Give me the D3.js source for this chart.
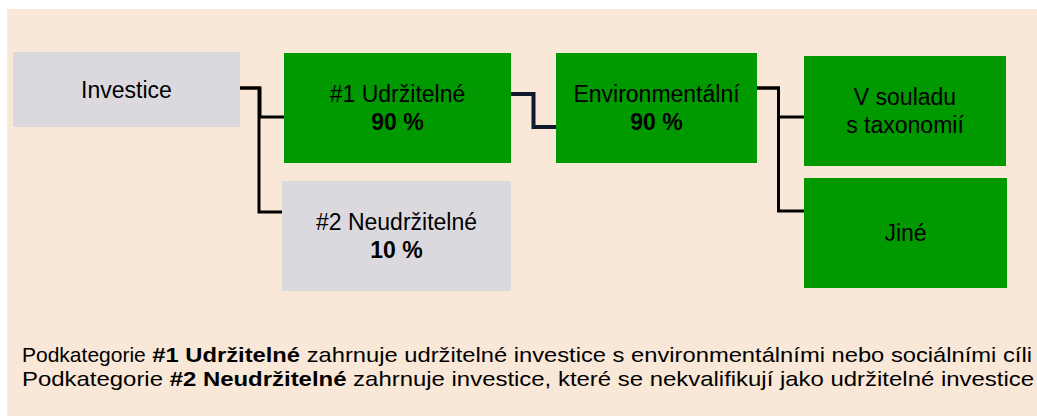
<!DOCTYPE html>
<html>
<head>
<meta charset="utf-8">
<script src="https://cdn.jsdelivr.net/npm/d3@7"></script>
<style>
  body { margin: 0; background: #fff; }
  svg { display: block; }
</style>
</head>
<body>
<div id="root"></div>
<script>
// nodes of the allocation tree
const nodeLabels = ['Investice', '#1 Udržitelné', '#2 Neudržitelné', 'Environmentální', 'V souladu|s taxonomií', 'Jiné'];
const nodeShares = [null, 90, 10, 90, null, null];
const nodeKinds = ['neutral', 'green', 'neutral', 'green', 'green', 'green'];
// parent -> children
const links = [[0, [1, 2]], [1, [3]], [3, [4, 5]]];
const footnoteLead = 'Podkategorie';
const footnoteBold = ['#1 Udržitelné', '#2 Neudržitelné'];
const footnoteRest = [
    'zahrnuje udržitelné investice s environmentálními nebo sociálními cíli',
    'zahrnuje investice, které se nekvalifikují jako udržitelné investice'
];

const width = 1037;
const height = 416;

// box geometry, one entry per node
const boxes = [
    { x: 13, y: 52, w: 227, h: 75, out: 36 },
    { x: 284, y: 53, w: 227, h: 110, in: 64, out: 41 },
    { x: 282, y: 181, w: 229, h: 110, in: 31 },
    { x: 556, y: 53, w: 201, h: 110, in: 74, out: 35 },
    { x: 804, y: 56, w: 202, h: 110, in: 61 },
    { x: 804, y: 178, w: 203, h: 110, in: 33 }
];

const colors = { green: '#009900', neutral: '#dbd9de' };
const fontSize = 23;
const lineHeight = 27.5;

const svg = d3.select('#root')
    .append('svg')
        .attr('width', width)
        .attr('height', height)
        .style('font-family', 'Arial, "Liberation Sans", sans-serif');

svg.append('rect')
    .attr('x', 7)
    .attr('y', 9)
    .attr('width', width - 7)
    .attr('height', height - 9)
    .attr('fill', '#f9e7d7');

// connectors (elbows)
const line = d3.line().curve(d3.curveLinear);
links.forEach(([p, kids]) => {
    const s = boxes[p];
    const sx = s.x + s.w;
    const sy = s.y + s.out;
    kids.forEach(k => {
        const t = boxes[k];
        const ty = t.y + t.in;
        const mx = (sx + t.x) / 2 - (kids.length > 1 ? 2 : 0);
        svg.append('path')
            .attr('d', line([[sx, sy], [mx, sy], [mx, ty], [t.x, ty]]))
            .attr('fill', 'none')
            .attr('stroke', kids.length > 1 ? '#000' : '#0f1b2d')
            .attr('stroke-width', kids.length > 1 ? 3 : 4)
            .attr('stroke-linejoin', 'miter');
    });
});

const node = svg.selectAll('g.node')
    .data(nodeLabels.map((label, i) => ({ label, share: nodeShares[i], kind: nodeKinds[i], box: boxes[i] })))
    .enter()
    .append('g')
        .attr('class', 'node');

node.append('rect')
    .attr('x', d => d.box.x)
    .attr('y', d => d.box.y)
    .attr('width', d => d.box.w)
    .attr('height', d => d.box.h)
    .attr('fill', d => colors[d.kind]);

node.each(function (d) {
    const lines = d.label.split('|').map(t => ({ t, bold: false }));
    if (d.share != null) lines.push({ t: `${d.share} %`, bold: true });
    const cx = d.box.x + d.box.w / 2;
    const cy = d.box.y + d.box.h / 2;
    const cap = fontSize * 0.716;
    d3.select(this).selectAll('text')
        .data(lines)
        .enter()
        .append('text')
            .attr('x', cx)
            .attr('y', (l, i) => cy + cap / 2 + (i - (lines.length - 1) / 2) * lineHeight)
            .attr('text-anchor', 'middle')
            .attr('font-size', fontSize)
            .attr('font-weight', l => l.bold ? 'bold' : 'normal')
            .attr('fill', '#000')
            .text(l => l.t);
});

// footnote: glyphs are wide in the source, so segments get stretched to fit.
// on line 1 the leading word keeps its natural width.
const footSize = 21;
const footX = 22;
const footEnd = [1032, 1034];
const footY = [361.5, 386];
const gap = footSize * 0.278;
const foot = svg.append('g').attr('fill', '#000').attr('font-size', footSize);

footnoteBold.forEach((b, i) => {
    const parts = [
        { t: footnoteLead, bold: false, stretch: i === 1 },
        { t: b, bold: true, stretch: true },
        { t: footnoteRest[i], bold: false, stretch: true }
    ];
    const els = parts.map(p => foot.append('text')
        .attr('y', footY[i])
        .attr('font-weight', p.bold ? 'bold' : 'normal')
        .text(p.t));
    const nat = els.map(e => e.node().getComputedTextLength());
    let fixed = 0, flex = 0;
    parts.forEach((p, j) => {
        const w = nat[j] + (j > 0 ? gap : 0);
        if (p.stretch) flex += w; else fixed += w;
    });
    const k = (footEnd[i] - footX - fixed) / flex;
    let cur = footX;
    parts.forEach((p, j) => {
        const f = p.stretch ? k : 1;
        if (j > 0) cur += gap * f;
        els[j].attr('x', cur);
        if (p.stretch) {
            els[j].attr('textLength', nat[j] * f).attr('lengthAdjust', 'spacingAndGlyphs');
        }
        cur += nat[j] * f;
    });
});
</script>
</body>
</html>
